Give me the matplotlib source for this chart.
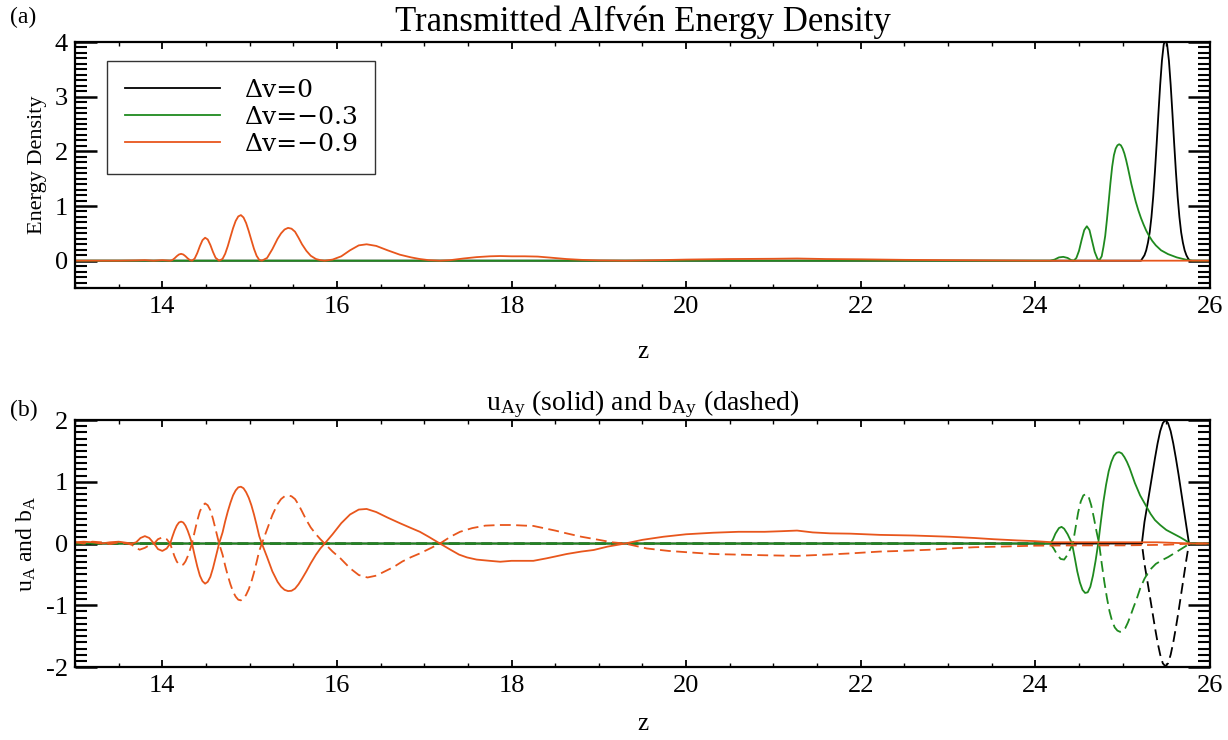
import matplotlib
matplotlib.use("Agg")
import matplotlib.pyplot as plt
from matplotlib.ticker import MultipleLocator, FormatStrFormatter

plt.rcParams['font.family'] = 'Liberation Serif'
plt.rcParams['mathtext.fontset'] = 'custom'
plt.rcParams['mathtext.rm'] = 'Liberation Serif'
plt.rcParams['mathtext.it'] = 'Liberation Serif'
plt.rcParams['axes.unicode_minus'] = False

## (a) energy density
z_E_black = [13.0, 25.21, 25.23, 25.25, 25.27, 25.29, 25.31, 25.33, 25.35, 25.37,
             25.39, 25.41, 25.43, 25.45, 25.47, 25.49, 25.51, 25.53, 25.55, 25.57,
             25.59, 25.61, 25.63, 25.65, 25.67, 25.69, 25.71, 25.73, 25.75, 25.77, 26.0]
E_black = [0.0, 0.0, 0.05, 0.10, 0.19, 0.33, 0.52, 0.80, 1.17, 1.63,
           2.15, 2.70, 3.22, 3.66, 3.95, 4.05, 3.95, 3.66, 3.22, 2.70,
           2.15, 1.63, 1.17, 0.80, 0.52, 0.33, 0.19, 0.10, 0.04, 0.0, 0.0]

z_E_green = [13.0, 24.17, 24.22, 24.27, 24.32, 24.37, 24.41, 24.44, 24.47, 24.50,
             24.53, 24.56, 24.59, 24.62, 24.65, 24.68, 24.71, 24.73, 24.76, 24.78,
             24.80, 24.82, 24.84, 24.86, 24.88, 24.90, 24.92, 24.94, 24.96, 24.98,
             25.00, 25.02, 25.04, 25.06, 25.08, 25.10, 25.12, 25.15, 25.18, 25.21,
             25.24, 25.27, 25.30, 25.34, 25.38, 25.44, 25.52, 25.62, 25.72, 25.80, 26.0]
E_green = [0.0, 0.0, 0.02, 0.06, 0.07, 0.05, 0.01, 0.0, 0.05, 0.18,
           0.38, 0.56, 0.63, 0.56, 0.36, 0.16, 0.04, 0.0, 0.08, 0.25,
           0.45, 0.75, 1.08, 1.42, 1.72, 1.93, 2.05, 2.11, 2.13, 2.11,
           2.05, 1.96, 1.84, 1.70, 1.55, 1.40, 1.27, 1.08, 0.92, 0.78,
           0.66, 0.55, 0.46, 0.36, 0.28, 0.19, 0.12, 0.06, 0.02, 0.0, 0.0]

z_E_orange = [13.0, 13.5, 13.7, 13.8, 13.9, 14.0, 14.09, 14.115, 14.14, 14.165,
              14.19, 14.215, 14.24, 14.265, 14.29, 14.315, 14.34, 14.37, 14.40, 14.43,
              14.46, 14.49, 14.52, 14.55, 14.58, 14.61, 14.65, 14.69, 14.72, 14.75,
              14.78, 14.81, 14.84, 14.87, 14.90, 14.93, 14.96, 14.99, 15.02, 15.05,
              15.08, 15.11, 15.14, 15.20, 15.26, 15.32, 15.36, 15.40, 15.44, 15.48,
              15.52, 15.56, 15.60, 15.65, 15.70, 15.76, 15.81, 15.86, 15.95, 16.05,
              16.15, 16.25, 16.34, 16.45, 16.58, 16.72, 16.85, 16.95, 17.05, 17.18,
              17.30, 17.45, 17.60, 17.75, 17.87, 18.00, 18.15, 18.30, 18.45, 18.63,
              18.80, 19.00, 19.30, 19.70, 20.00, 20.50, 21.00, 21.27, 21.60, 22.00,
              22.50, 23.00, 23.50, 24.00, 26.0]
E_orange = [0.0, 0.0, 0.005, 0.01, 0.0, 0.01, 0.0, 0.012, 0.043, 0.082,
            0.113, 0.125, 0.113, 0.082, 0.043, 0.012, 0.0, 0.038, 0.138, 0.266,
            0.375, 0.42, 0.388, 0.288, 0.16, 0.053, 0.0, 0.033, 0.127, 0.267,
            0.432, 0.594, 0.727, 0.81, 0.834, 0.79, 0.687, 0.54, 0.376, 0.216,
            0.089, 0.015, 0.0, 0.05, 0.21, 0.40, 0.50, 0.57, 0.60, 0.585,
            0.53, 0.42, 0.30, 0.18, 0.09, 0.03, 0.01, 0.0, 0.02, 0.08,
            0.19, 0.28, 0.30, 0.27, 0.19, 0.11, 0.06, 0.03, 0.01, 0.0,
            0.01, 0.04, 0.065, 0.08, 0.085, 0.08, 0.08, 0.075, 0.055, 0.03,
            0.015, 0.005, 0.0, 0.01, 0.02, 0.03, 0.035, 0.04, 0.03, 0.025,
            0.015, 0.01, 0.005, 0.0, 0.0]

## (b) u_Ay (solid) and b_Ay (dashed)
z_u_black = [13.0, 25.22, 25.25, 25.28, 25.31, 25.34, 25.37, 25.40, 25.43, 25.46,
             25.49, 25.52, 25.55, 25.58, 25.61, 25.64, 25.67, 25.70, 25.73, 25.76, 26.0]
u_black = [0.0, 0.0, 0.35, 0.60, 0.86, 1.12, 1.38, 1.62, 1.82, 1.95,
           2.0, 1.95, 1.82, 1.62, 1.38, 1.12, 0.84, 0.56, 0.28, 0.0, 0.0]
b_black = [0.0, 0.0, -0.33, -0.58, -0.84, -1.10, -1.36, -1.60, -1.80, -1.94,
           -1.99, -1.94, -1.80, -1.60, -1.36, -1.10, -0.82, -0.54, -0.26, 0.0, 0.0]

z_u_green = [13.0, 24.17, 24.20, 24.23, 24.27, 24.30, 24.33, 24.37, 24.42, 24.45,
             24.48, 24.51, 24.54, 24.57, 24.60, 24.63, 24.66, 24.69, 24.72, 24.75,
             24.78, 24.81, 24.84, 24.87, 24.90, 24.93, 24.96, 24.99, 25.02, 25.05,
             25.08, 25.11, 25.14, 25.17, 25.20, 25.24, 25.28, 25.32, 25.37, 25.43,
             25.50, 25.58, 25.66, 25.72, 25.77, 26.0]
u_green = [0.0, 0.0, 0.06, 0.16, 0.25, 0.27, 0.24, 0.15, 0.0, -0.22,
           -0.45, -0.63, -0.75, -0.80, -0.79, -0.70, -0.52, -0.28, 0.0, 0.35,
           0.68, 0.95, 1.17, 1.32, 1.42, 1.47, 1.48, 1.46, 1.40, 1.32,
           1.22, 1.10, 0.98, 0.88, 0.78, 0.68, 0.58, 0.48, 0.38, 0.30,
           0.22, 0.16, 0.10, 0.05, 0.0, 0.0]

z_b_green = [13.0, 24.17, 24.21, 24.25, 24.29, 24.33, 24.37, 24.43, 24.46, 24.49,
             24.52, 24.55, 24.58, 24.61, 24.64, 24.67, 24.70, 24.73, 24.76, 24.79,
             24.82, 24.85, 24.88, 24.91, 24.94, 24.97, 25.00, 25.03, 25.06, 25.09,
             25.12, 25.16, 25.20, 25.25, 25.31, 25.38, 25.45, 25.52, 25.60, 25.68,
             25.77, 26.0]
b_green = [0.0, 0.0, -0.08, -0.18, -0.25, -0.26, -0.18, 0.0, 0.25, 0.50,
           0.68, 0.78, 0.80, 0.76, 0.62, 0.42, 0.20, 0.0, -0.32, -0.62,
           -0.88, -1.10, -1.26, -1.36, -1.41, -1.43, -1.42, -1.37, -1.28, -1.17,
           -1.05, -0.90, -0.73, -0.57, -0.43, -0.33, -0.27, -0.22, -0.15, -0.08,
           0.0, 0.0]

z_u_orange = [13.0, 13.1, 13.2, 13.3, 13.4, 13.5, 13.6, 13.65, 13.70, 13.75,
              13.80, 13.85, 13.905, 13.95, 14.0, 14.05, 14.09, 14.115, 14.14, 14.165,
              14.19, 14.215, 14.24, 14.265, 14.29, 14.315, 14.34, 14.37, 14.40, 14.43,
              14.46, 14.49, 14.52, 14.55, 14.58, 14.61, 14.65, 14.69, 14.72, 14.75,
              14.78, 14.81, 14.84, 14.87, 14.90, 14.93, 14.96, 14.99, 15.02, 15.05,
              15.08, 15.11, 15.14, 15.20, 15.26, 15.32, 15.36, 15.40, 15.44, 15.48,
              15.52, 15.56, 15.60, 15.65, 15.70, 15.76, 15.81, 15.86, 15.95, 16.05,
              16.15, 16.25, 16.34, 16.45, 16.58, 16.72, 16.85, 16.95, 17.05, 17.18,
              17.30, 17.40, 17.49, 17.60, 17.75, 17.87, 18.00, 18.10, 18.25, 18.40,
              18.50, 18.63, 18.80, 18.94, 19.10, 19.30, 19.50, 19.74, 20.00, 20.31,
              20.60, 20.90, 21.10, 21.27, 21.45, 21.65, 21.88, 22.22, 22.60, 23.02,
              23.30, 23.52, 23.80, 23.98, 24.20, 24.60, 25.00, 25.40, 25.80, 26.0]
u_orange = [0.02, 0.03, 0.02, 0.0, 0.02, 0.03, 0.01, 0.0, 0.02, 0.09,
            0.12, 0.09, 0.0, -0.09, -0.12, -0.08, 0.0, 0.11, 0.21, 0.29,
            0.34, 0.355, 0.34, 0.29, 0.21, 0.11, 0.0, -0.19, -0.37, -0.52,
            -0.61, -0.65, -0.62, -0.54, -0.40, -0.23, 0.0, 0.18, 0.36, 0.52,
            0.66, 0.78, 0.86, 0.91, 0.92, 0.895, 0.83, 0.74, 0.62, 0.47,
            0.30, 0.12, 0.0, -0.22, -0.45, -0.62, -0.70, -0.75, -0.77, -0.765,
            -0.73, -0.66, -0.57, -0.45, -0.32, -0.18, -0.08, 0.0, 0.15, 0.33,
            0.47, 0.55, 0.56, 0.51, 0.42, 0.33, 0.25, 0.19, 0.11, 0.0,
            -0.10, -0.18, -0.225, -0.26, -0.28, -0.295, -0.28, -0.28, -0.28, -0.24,
            -0.21, -0.17, -0.13, -0.105, -0.05, 0.0, 0.06, 0.11, 0.15, 0.175,
            0.19, 0.19, 0.20, 0.21, 0.18, 0.165, 0.16, 0.14, 0.13, 0.11,
            0.09, 0.07, 0.05, 0.04, 0.02, 0.02, 0.02, 0.02, 0.0, 0.0]

z_b_orange = [13.0, 13.1, 13.2, 13.3, 13.4, 13.5, 13.6, 13.65, 13.70, 13.74,
              13.80, 13.86, 13.905, 13.95, 14.0, 14.05, 14.09, 14.115, 14.14, 14.165,
              14.19, 14.215, 14.24, 14.265, 14.29, 14.315, 14.34, 14.37, 14.40, 14.43,
              14.46, 14.49, 14.52, 14.55, 14.58, 14.61, 14.65, 14.69, 14.72, 14.75,
              14.78, 14.81, 14.84, 14.87, 14.90, 14.93, 14.96, 14.99, 15.02, 15.05,
              15.08, 15.11, 15.14, 15.20, 15.26, 15.32, 15.36, 15.40, 15.44, 15.48,
              15.52, 15.56, 15.60, 15.65, 15.70, 15.76, 15.81, 15.86, 15.95, 16.04,
              16.15, 16.25, 16.35, 16.45, 16.55, 16.65, 16.75, 16.85, 16.95, 17.03,
              17.18, 17.30, 17.41, 17.55, 17.70, 17.87, 18.00, 18.15, 18.25, 18.40,
              18.50, 18.63, 18.80, 19.01, 19.15, 19.30, 19.55, 19.80, 20.00, 20.31,
              20.60, 20.90, 21.27, 21.60, 21.88, 22.22, 22.45, 22.80, 23.02, 23.30,
              23.60, 24.00, 24.50, 25.00, 25.50, 25.80, 26.0]
b_orange = [0.02, 0.0, 0.03, 0.02, -0.01, 0.02, 0.0, -0.02, -0.07, -0.10,
            -0.07, -0.02, 0.0, 0.07, 0.10, 0.07, 0.0, -0.11, -0.21, -0.29,
            -0.34, -0.35, -0.34, -0.29, -0.21, -0.11, 0.0, 0.19, 0.37, 0.52,
            0.61, 0.65, 0.62, 0.54, 0.40, 0.23, 0.0, -0.18, -0.36, -0.52,
            -0.66, -0.78, -0.86, -0.91, -0.92, -0.895, -0.83, -0.74, -0.62, -0.47,
            -0.30, -0.12, 0.0, 0.23, 0.46, 0.64, 0.72, 0.765, 0.78, 0.765,
            0.72, 0.63, 0.52, 0.38, 0.26, 0.15, 0.07, 0.0, -0.13, -0.24,
            -0.40, -0.51, -0.55, -0.52, -0.45, -0.38, -0.29, -0.22, -0.16, -0.105,
            0.0, 0.11, 0.19, 0.25, 0.29, 0.30, 0.30, 0.29, 0.285, 0.24,
            0.21, 0.165, 0.11, 0.057, 0.02, 0.0, -0.08, -0.12, -0.14, -0.17,
            -0.18, -0.19, -0.20, -0.18, -0.16, -0.13, -0.12, -0.10, -0.08, -0.06,
            -0.05, -0.035, -0.03, -0.03, -0.02, 0.0, 0.0]

labels = ['\u0394v=0', '\u0394v=\u22120.3', '\u0394v=\u22120.9']
colors = ['black', '#1f8a1f', '#e8561c']
lw = 1.3
dash = (0, (6, 3))


def style_axis(ax, xpad):
    ax.set_xlim(13, 26)
    ax.xaxis.set_major_locator(MultipleLocator(2))
    ax.xaxis.set_minor_locator(MultipleLocator(0.5))
    ax.yaxis.set_major_locator(MultipleLocator(1))
    ax.yaxis.set_minor_locator(MultipleLocator(0.1))
    ax.yaxis.set_major_formatter(FormatStrFormatter('%d'))
    ax.tick_params(axis='both', which='both', direction='in', top=True, right=True,
                   labelsize=19)
    ax.tick_params(axis='x', which='major', length=5, width=1.3, pad=6)
    ax.tick_params(axis='x', which='minor', length=3, width=1.0)
    ax.tick_params(axis='y', which='major', length=16, width=1.8, pad=5)
    ax.tick_params(axis='y', which='minor', length=8.5, width=1.5)
    for s in ax.spines.values():
        s.set_linewidth(1.6)
    ax.set_xlabel('z', fontsize=18, labelpad=xpad)


fig = plt.figure(figsize=(12.28, 7.40), dpi=100)
ax1 = fig.add_axes([0.0611, 0.6108, 0.9242, 0.3324])
ax2 = fig.add_axes([0.0611, 0.0986, 0.9242, 0.3338])

# panel (a)
ax1.plot(z_E_black, E_black, color=colors[0], lw=lw, label=labels[0])
ax1.plot(z_E_green, E_green, color=colors[1], lw=lw, label=labels[1])
ax1.plot(z_E_orange, E_orange, color=colors[2], lw=lw, label=labels[2])
ax1.set_ylim(-0.5, 4.0)
style_axis(ax1, 16)
ax1.set_ylabel('Energy Density', fontsize=16, labelpad=6)
ax1.set_title('Transmitted Alfv\u00e9n Energy Density', fontsize=25, pad=8)
leg = ax1.legend(loc='upper left', bbox_to_anchor=(0.028, 0.923), borderaxespad=0,
                 fancybox=False, edgecolor='#333333', framealpha=1,
                 handlelength=3.8, handletextpad=0.95, labelspacing=0.16,
                 borderpad=0.72, prop={'family': 'DejaVu Serif', 'size': 18})
leg.get_frame().set_linewidth(1.0)

# panel (b)
ax2.plot(z_u_black, u_black, color=colors[0], lw=lw)
ax2.plot(z_u_black, b_black, color=colors[0], lw=lw, linestyle=dash)
ax2.plot(z_u_green, u_green, color=colors[1], lw=lw)
ax2.plot(z_b_green, b_green, color=colors[1], lw=lw, linestyle=dash)
ax2.plot(z_u_orange, u_orange, color=colors[2], lw=lw)
ax2.plot(z_b_orange, b_orange, color=colors[2], lw=lw, linestyle=dash)
ax2.set_ylim(-2, 2)
style_axis(ax2, 11)
ax2.set_ylabel(r'u$_{\rm A}$ and b$_{\rm A}$', fontsize=17, labelpad=6)
ax2.set_title(r'u$_{\rm Ay}$ (solid) and b$_{\rm Ay}$ (dashed)', fontsize=20, pad=2)

fig.text(0.008, 0.977, '(a)', fontsize=17, va='center', ha='left')
fig.text(0.008, 0.445, '(b)', fontsize=17, va='center', ha='left')

fig.savefig('out.png', dpi=100)
